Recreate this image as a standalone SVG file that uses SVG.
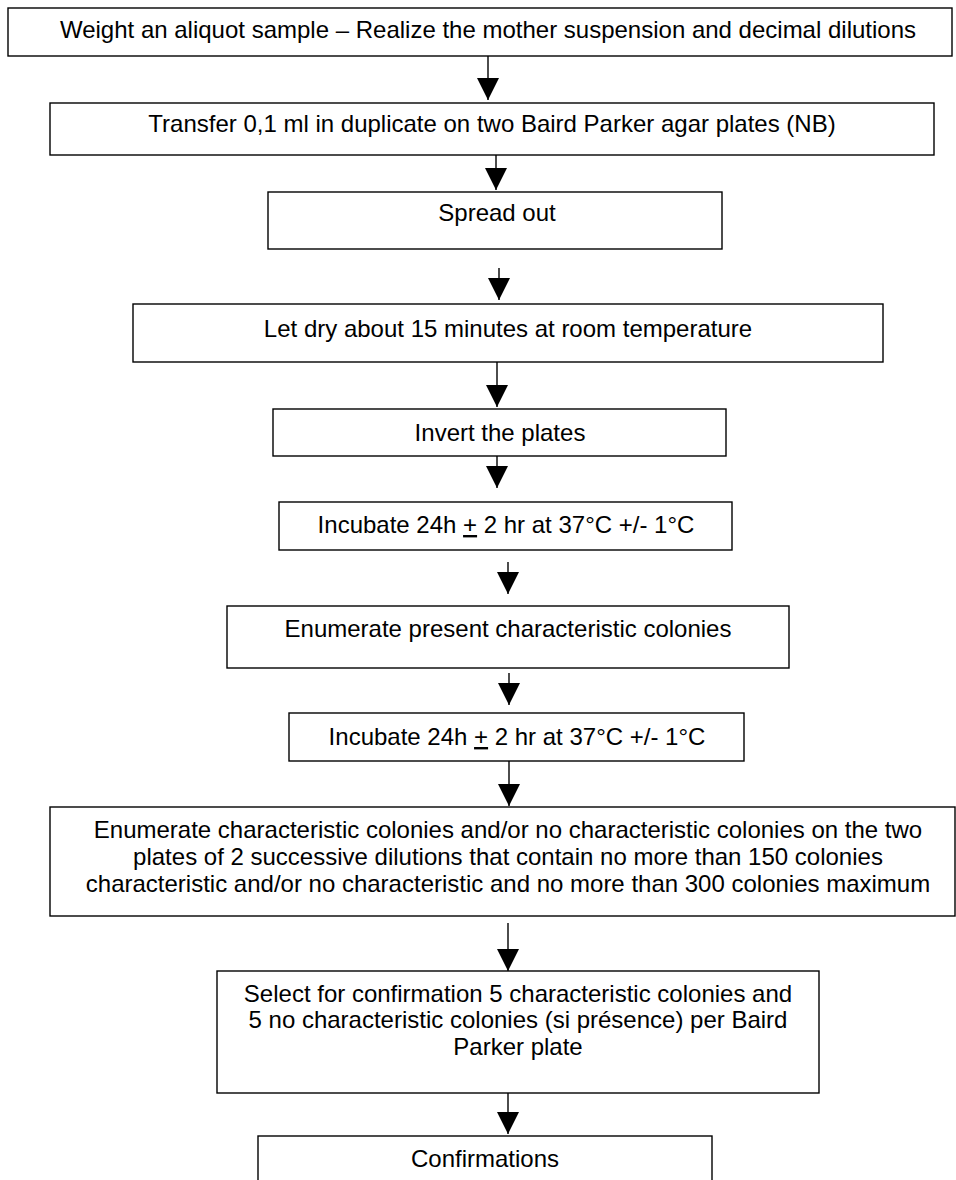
<svg xmlns="http://www.w3.org/2000/svg" width="956" height="1180" viewBox="0 0 956 1180">
<style>
.box{fill:#fff;stroke:#000;stroke-width:1.4}
.t{font-family:"Liberation Sans",Arial,sans-serif;font-size:24px;fill:#000;text-anchor:middle}
.c{stroke:#000;stroke-width:1.4;fill:none}
.u{text-decoration:underline}
</style>
<defs>
<marker id="ah" markerUnits="userSpaceOnUse" markerWidth="22" markerHeight="22" viewBox="0 0 20 20" refX="20" refY="10" orient="auto">
<path d="M0,0 L20,10 L0,20 Z" fill="#000"/>
</marker>
</defs>
<rect width="956" height="1180" fill="#fff"/>
<g id="connectors">
<line class="c" x1="488" y1="56" x2="488" y2="100" marker-end="url(#ah)"/>
<line class="c" x1="496" y1="155" x2="496" y2="190" marker-end="url(#ah)"/>
<line class="c" x1="499" y1="268" x2="499" y2="300" marker-end="url(#ah)"/>
<line class="c" x1="497" y1="362" x2="497" y2="407" marker-end="url(#ah)"/>
<line class="c" x1="497" y1="456" x2="497" y2="488" marker-end="url(#ah)"/>
<line class="c" x1="508" y1="562" x2="508" y2="594" marker-end="url(#ah)"/>
<line class="c" x1="509" y1="673" x2="509" y2="705" marker-end="url(#ah)"/>
<line class="c" x1="509" y1="761" x2="509" y2="806" marker-end="url(#ah)"/>
<line class="c" x1="508" y1="923" x2="508" y2="971" marker-end="url(#ah)"/>
<line class="c" x1="508" y1="1092" x2="508" y2="1134" marker-end="url(#ah)"/>
</g>
<g id="n1"><rect class="box" x="8" y="8" width="944" height="48"/><text class="t" x="488" y="38">Weight an aliquot sample – Realize the mother suspension and decimal dilutions</text></g>
<g id="n2"><rect class="box" x="50" y="103" width="884" height="52"/><text class="t" x="492" y="132">Transfer 0,1 ml in duplicate on two Baird Parker agar plates (NB)</text></g>
<g id="n3"><rect class="box" x="268" y="192" width="454" height="57"/><text class="t" x="497" y="221">Spread out</text></g>
<g id="n4"><rect class="box" x="133" y="304" width="750" height="58"/><text class="t" x="508" y="337">Let dry about 15 minutes at room temperature</text></g>
<g id="n5"><rect class="box" x="273" y="409" width="453" height="47"/><text class="t" x="500" y="441">Invert the plates</text></g>
<g id="n6"><rect class="box" x="279" y="502" width="453" height="48"/><text class="t" x="506" y="533">Incubate 24h <tspan class="u">+</tspan> 2 hr at 37°C +/- 1°C</text></g>
<g id="n7"><rect class="box" x="227" y="606" width="562" height="62"/><text class="t" x="508" y="637">Enumerate present characteristic colonies</text></g>
<g id="n8"><rect class="box" x="289" y="713" width="455" height="48"/><text class="t" x="517" y="745">Incubate 24h <tspan class="u">+</tspan> 2 hr at 37°C +/- 1°C</text></g>
<g id="n9"><rect class="box" x="50" y="807" width="905" height="109"/><text class="t" x="508" y="838">Enumerate characteristic colonies and/or no characteristic colonies on the two</text><text class="t" x="508" y="865">plates of 2 successive dilutions that contain no more than 150 colonies</text><text class="t" x="508" y="892">characteristic and/or no characteristic and no more than 300 colonies maximum</text></g>
<g id="n10"><rect class="box" x="217" y="971" width="602" height="122"/><text class="t" x="518" y="1002">Select for confirmation 5 characteristic colonies and</text><text class="t" x="518" y="1028">5 no characteristic colonies (si présence) per Baird</text><text class="t" x="518" y="1055">Parker plate</text></g>
<g id="n11"><rect class="box" x="258" y="1136" width="454" height="70"/><text class="t" x="485" y="1167">Confirmations</text></g>
</svg>
